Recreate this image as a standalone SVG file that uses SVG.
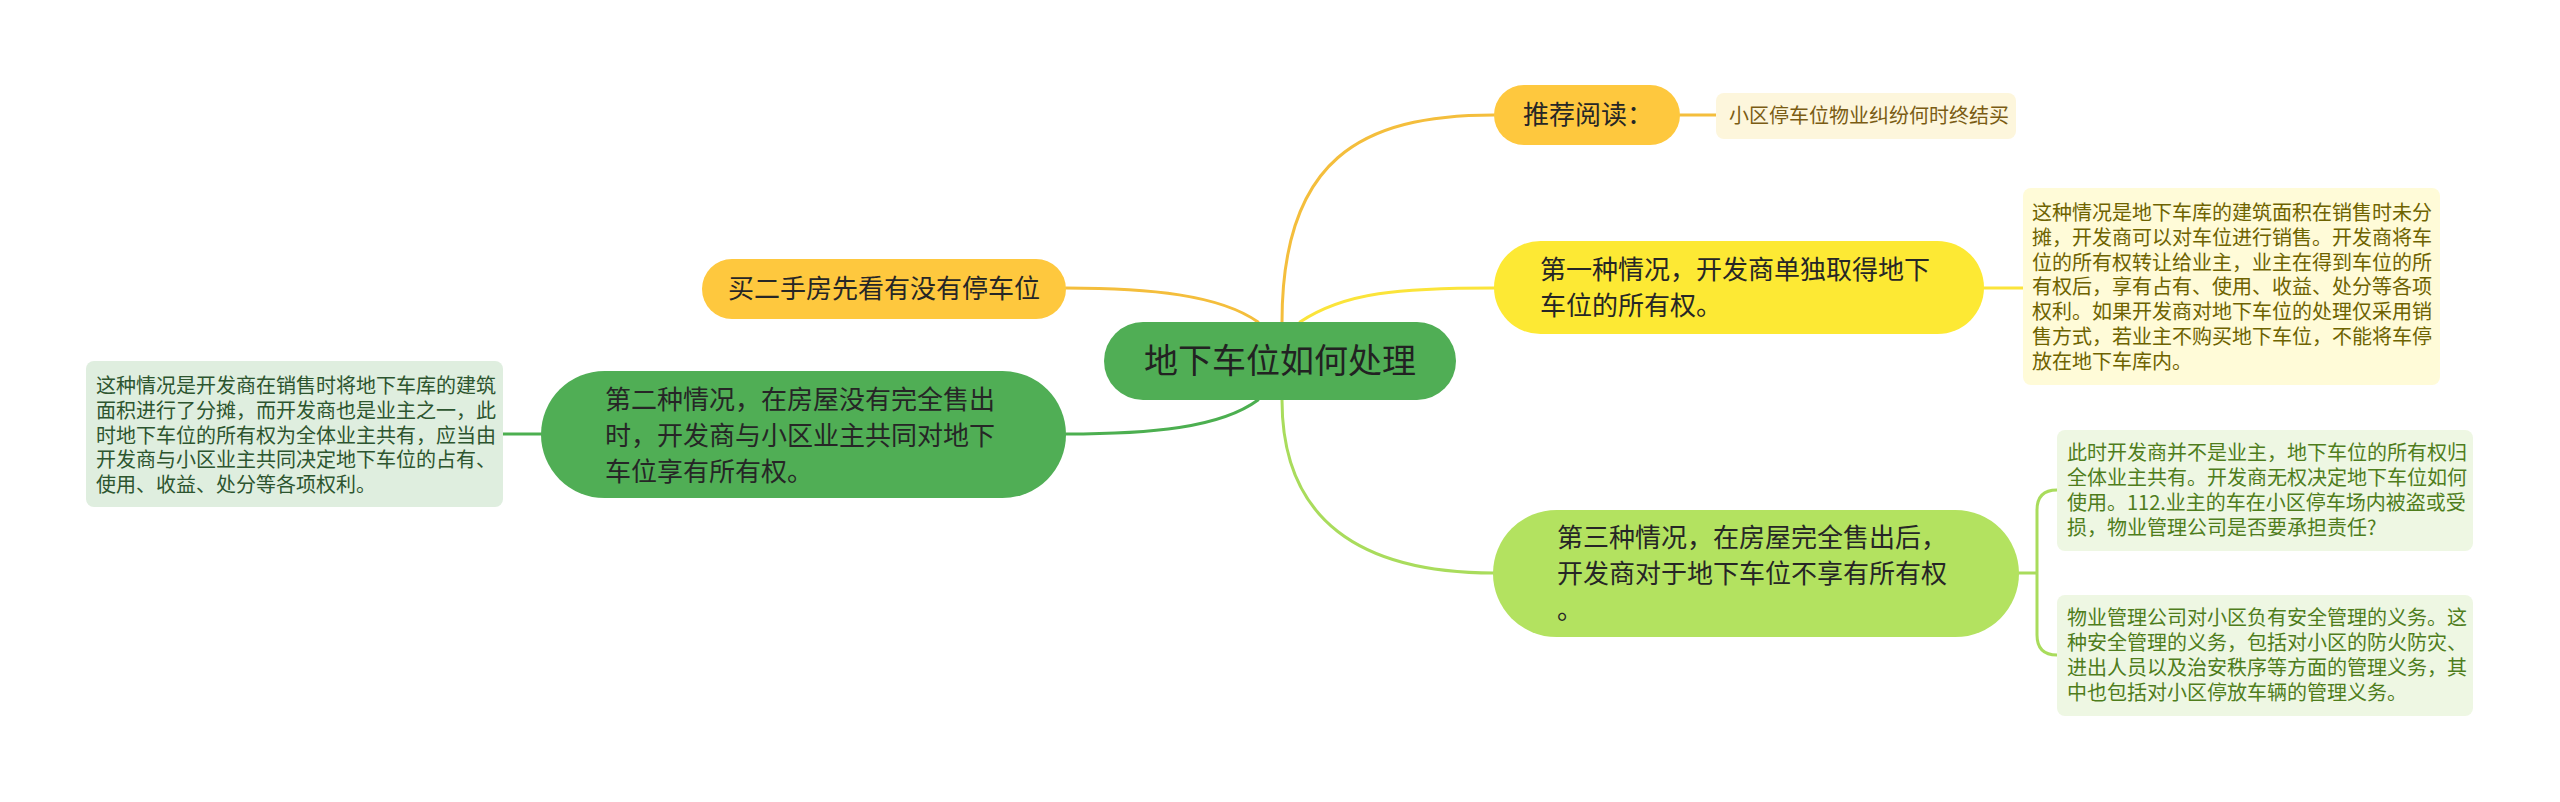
<svg xmlns="http://www.w3.org/2000/svg" width="2560" height="802" viewBox="0 0 2560 802">
<style>
text{font-family:"Noto Sans CJK SC","Noto Sans",sans-serif;}
.main{font-size:34px;fill:#222;}
.t1{font-size:26px;fill:#262626;}
.lf{font-size:20px;}
.conn{fill:none;stroke-width:3;stroke-linecap:round;}
</style>
<rect width="2560" height="802" fill="#ffffff"/>
<g id="connectors">
<path class="conn" stroke="#f4be3c" d="M1282,322 C1282,160 1360,115 1494,115"/>
<path class="conn" stroke="#fbe43a" d="M1300,322 C1345,292 1400,288 1494,288"/>
<path class="conn" stroke="#a9dc5c" d="M1282,400 C1282,520 1360,573 1494,573"/>
<path class="conn" stroke="#f4be3c" d="M1258,322 C1220,295 1150,288 1066,288"/>
<path class="conn" stroke="#4caf50" d="M1258,400 C1220,428 1150,434 1066,434"/>
<path class="conn" stroke="#f4be3c" d="M1680,115 L1716,115"/>
<path class="conn" stroke="#fbe43a" d="M1984,288 L2023,288"/>
<path class="conn" stroke="#4caf50" d="M541,434 L503,434"/>
<path class="conn" stroke="#a9dc5c" d="M2019,573 L2037,573 M2057,490 Q2037,490 2037,510 L2037,635 Q2037,655 2057,655"/>
</g>
<g id="center">
<rect x="1104" y="322" width="352" height="78" rx="39" fill="#50ae55"/>
<text class="main" x="1280" y="373" text-anchor="middle">地下车位如何处理</text>
</g>
<g id="recommend">
<rect x="1494" y="85" width="186" height="60" rx="30" fill="#fec83e"/>
<text class="t1" x="1523" y="124">推荐阅读：</text>
</g>
<g id="recommend-leaf">
<rect x="1716" y="93" width="300" height="46" rx="8" fill="#fdf6dc"/>
<text class="lf" x="1729" y="123" fill="#7a5c14">小区停车位物业纠纷何时终结买</text>
</g>
<g id="case1">
<rect x="1494" y="241" width="490" height="93" rx="46.5" fill="#fde934"/>
<text class="t1" x="1540" y="278.5">第一种情况，开发商单独取得地下</text>
<text class="t1" x="1540" y="314.5">车位的所有权。</text>
</g>
<g id="case1-leaf">
<rect x="2023" y="188" width="417" height="197" rx="8" fill="#fffbd8"/>
<g class="lf" fill="#6e6300">
<text x="2032" y="220">这种情况是地下车库的建筑面积在销售时未分</text>
<text x="2032" y="244.8">摊，开发商可以对车位进行销售。开发商将车</text>
<text x="2032" y="269.6">位的所有权转让给业主，业主在得到车位的所</text>
<text x="2032" y="294.4">有权后，享有占有、使用、收益、处分等各项</text>
<text x="2032" y="319.2">权利。如果开发商对地下车位的处理仅采用销</text>
<text x="2032" y="344">售方式，若业主不购买地下车位，不能将车停</text>
<text x="2032" y="368.8">放在地下车库内。</text>
</g>
</g>
<g id="case3">
<rect x="1493" y="510" width="526" height="127" rx="63.5" fill="#b3e260"/>
<text class="t1" x="1557" y="547">第三种情况，在房屋完全售出后，</text>
<text class="t1" x="1557" y="583">开发商对于地下车位不享有所有权</text>
<text class="t1" x="1557" y="619">。</text>
</g>
<g id="case3-leaf1">
<rect x="2057" y="430" width="416" height="121" rx="8" fill="#eef7e3"/>
<g class="lf" fill="#4f7d1c">
<text x="2067" y="460">此时开发商并不是业主，地下车位的所有权归</text>
<text x="2067" y="485">全体业主共有。开发商无权决定地下车位如何</text>
<text x="2067" y="510">使用。112.业主的车在小区停车场内被盗或受</text>
<text x="2067" y="535">损，物业管理公司是否要承担责任?</text>
</g>
</g>
<g id="case3-leaf2">
<rect x="2057" y="595" width="416" height="121" rx="8" fill="#eef7e3"/>
<g class="lf" fill="#4f7d1c">
<text x="2067" y="625">物业管理公司对小区负有安全管理的义务。这</text>
<text x="2067" y="650">种安全管理的义务，包括对小区的防火防灾、</text>
<text x="2067" y="675">进出人员以及治安秩序等方面的管理义务，其</text>
<text x="2067" y="700">中也包括对小区停放车辆的管理义务。</text>
</g>
</g>
<g id="buy">
<rect x="702" y="259" width="364" height="60" rx="30" fill="#fec83e"/>
<text class="t1" x="884" y="298" text-anchor="middle">买二手房先看有没有停车位</text>
</g>
<g id="case2">
<rect x="541" y="371" width="525" height="127" rx="63.5" fill="#50ae55"/>
<text class="t1" x="605" y="409">第二种情况，在房屋没有完全售出</text>
<text class="t1" x="605" y="445">时，开发商与小区业主共同对地下</text>
<text class="t1" x="605" y="481">车位享有所有权。</text>
</g>
<g id="case2-leaf">
<rect x="86" y="361" width="417" height="146" rx="8" fill="#dfeedf"/>
<g class="lf" fill="#2d552f">
<text x="96" y="393">这种情况是开发商在销售时将地下车库的建筑</text>
<text x="96" y="417.8">面积进行了分摊，而开发商也是业主之一，此</text>
<text x="96" y="442.6">时地下车位的所有权为全体业主共有，应当由</text>
<text x="96" y="467.4">开发商与小区业主共同决定地下车位的占有、</text>
<text x="96" y="492.2">使用、收益、处分等各项权利。</text>
</g>
</g>
</svg>
